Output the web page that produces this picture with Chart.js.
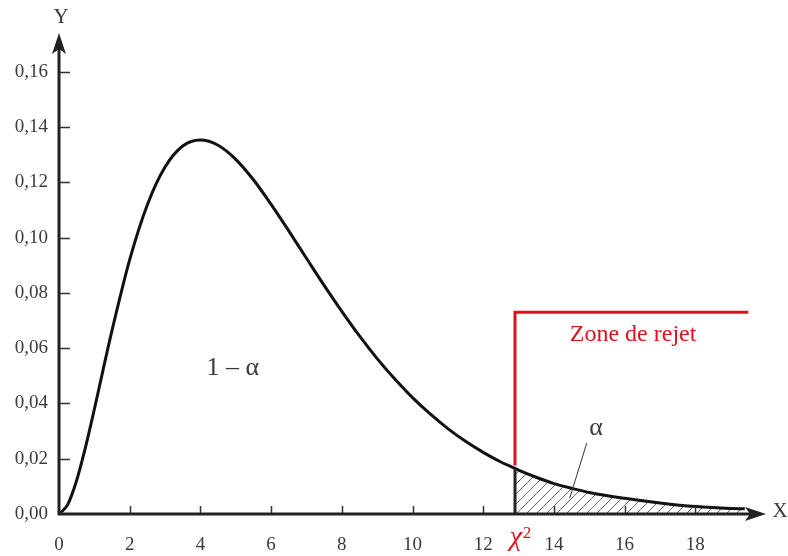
<!DOCTYPE html>
<html>
<head>
<meta charset="utf-8">
<script src="https://cdn.jsdelivr.net/npm/chart.js@4.4.1/dist/chart.umd.min.js"></script>
<style>
  html, body { margin: 0; padding: 0; background: #ffffff; }
  canvas { display: block; }
</style>
</head>
<body>
<canvas id="c" width="788" height="556"></canvas>
<script>
// Chi-square density curve, value at each x
const xValues = [0, 0.25, 0.5, 0.75, 1, 1.25, 1.5, 2, 2.5, 3, 3.5, 4, 4.5, 5, 5.5, 6, 6.5, 7, 7.5, 8, 8.5, 9, 9.5,
  10, 10.5, 11, 11.5, 12, 12.5, 12.9, 13, 13.5, 14, 14.5, 15, 16, 17, 18, 19, 19.4];
const densityValues = [0, 0.0035, 0.0122, 0.0242, 0.0379, 0.0523, 0.0664, 0.0920, 0.1119, 0.1255, 0.1331, 0.1353, 0.1334,
  0.1283, 0.1209, 0.1120, 0.1024, 0.0925, 0.0827, 0.0733, 0.0644, 0.0562, 0.0488,
  0.0421, 0.0362, 0.0309, 0.0263, 0.0223, 0.0188, 0.0165, 0.0159, 0.0133, 0.0110,
  0.0093, 0.0078, 0.0057, 0.0040, 0.0027, 0.0020, 0.0019];

const xTicks = [0, 2, 4, 6, 8, 10, 12, 14, 16, 18];
const yTicks = [0, 0.02, 0.04, 0.06, 0.08, 0.10, 0.12, 0.14, 0.16];

const criticalValue = 12.9;   // χ² threshold
const rejectLevel = 0.073;    // height of the rejection-zone bracket
const rejectEnd = 19.5;       // where the bracket stops on the x axis

const curvePoints = xValues.map((x, i) => ({ x: x, y: densityValues[i] }));
const tailPoints = curvePoints.filter(p => p.x >= criticalValue);
const criticalDensity = densityValues[xValues.indexOf(criticalValue)];

const canvas = document.getElementById('c');
const mainCtx = canvas.getContext('2d');

// diagonal hatching for the α area
function makeHatch() {
  const p = document.createElement('canvas');
  p.width = 10; p.height = 10;
  const g = p.getContext('2d');
  g.strokeStyle = '#666666';
  g.lineWidth = 1;
  g.beginPath();
  g.moveTo(0, 10); g.lineTo(10, 0);
  g.moveTo(-1, 1); g.lineTo(1, -1);
  g.moveTo(9, 11); g.lineTo(11, 9);
  g.stroke();
  return mainCtx.createPattern(p, 'repeat');
}

const SERIF = '"Liberation Serif", "Times New Roman", serif';
const INK = '#222222';
const RED = '#e0101c';
const TEXT = '#3a3a3a';

const decorations = {
  id: 'decorations',
  afterDatasetsDraw(chart) {
    const ctx = chart.ctx;
    const xs = chart.scales.x, ys = chart.scales.y;
    const area = chart.chartArea;
    const x0 = xs.getPixelForValue(0);
    const y0 = ys.getPixelForValue(0);
    const px = v => xs.getPixelForValue(v);
    const py = v => ys.getPixelForValue(v);

    ctx.save();

    // tick marks
    ctx.strokeStyle = '#333333';
    ctx.lineWidth = 1.5;
    ctx.beginPath();
    yTicks.forEach(v => { if (v > 0) { const y = Math.round(py(v)) + 0.5; ctx.moveTo(x0, y); ctx.lineTo(x0 + 11, y); } });
    xTicks.forEach(v => { if (v > 0) { const x = Math.round(px(v)) + 0.5; ctx.moveTo(x, y0); ctx.lineTo(x, y0 - 8); } });
    ctx.stroke();

    // axes with arrows
    ctx.strokeStyle = INK;
    ctx.fillStyle = INK;
    ctx.lineWidth = 3;
    ctx.beginPath();
    ctx.moveTo(x0, y0 + 1.5); ctx.lineTo(x0, area.top + 14);
    ctx.moveTo(x0 - 1.5, y0); ctx.lineTo(area.right - 14, y0);
    ctx.stroke();
    ctx.beginPath();
    ctx.moveTo(x0, area.top);
    ctx.lineTo(x0 - 7, area.top + 21);
    ctx.lineTo(x0, area.top + 16);
    ctx.lineTo(x0 + 7, area.top + 21);
    ctx.closePath();
    ctx.fill();
    ctx.beginPath();
    ctx.moveTo(area.right, y0);
    ctx.lineTo(area.right - 21, y0 - 7);
    ctx.lineTo(area.right - 16, y0);
    ctx.lineTo(area.right - 21, y0 + 7);
    ctx.closePath();
    ctx.fill();

    // threshold line under the curve
    ctx.lineWidth = 3;
    ctx.beginPath();
    ctx.moveTo(px(criticalValue), y0);
    ctx.lineTo(px(criticalValue), py(criticalDensity));
    ctx.stroke();

    // rejection zone bracket
    ctx.strokeStyle = RED;
    ctx.lineWidth = 3;
    ctx.beginPath();
    ctx.moveTo(px(criticalValue), py(criticalDensity) - 3);
    ctx.lineTo(px(criticalValue), py(rejectLevel));
    ctx.lineTo(px(rejectEnd), py(rejectLevel));
    ctx.stroke();

    // leader line to α
    ctx.strokeStyle = '#333333';
    ctx.lineWidth = 1;
    ctx.beginPath();
    ctx.moveTo(px(14.93), py(0.0257));
    ctx.lineTo(px(14.45), py(0.0058));
    ctx.stroke();

    // texts
    ctx.textAlign = 'center';
    ctx.textBaseline = 'middle';
    ctx.fillStyle = TEXT;
    ctx.font = '26px ' + SERIF;
    ctx.fillText('1 \u2013 \u03b1', px(4.92), py(0.0528));
    ctx.fillText('\u03b1', px(15.19), py(0.0311));

    ctx.fillStyle = RED;
    ctx.font = '24px ' + SERIF;
    ctx.fillText('Zone de rejet', px(16.24), py(0.0648));

    ctx.font = '21px ' + SERIF;
    ctx.fillStyle = TEXT;
    ctx.fillText('Y', x0 + 2, 17);
    ctx.fillText('X', area.right + 14, y0 - 3);

    // χ² under the threshold
    ctx.fillStyle = RED;
    ctx.textBaseline = 'alphabetic';
    ctx.font = 'italic 28px ' + SERIF;
    ctx.fillText('\u03c7', px(criticalValue) + 1, y0 + 31);
    ctx.font = '17px ' + SERIF;
    ctx.fillText('2', px(criticalValue) + 12, y0 + 24);

    ctx.restore();
  }
};

new Chart(canvas, {
  type: 'line',
  data: {
    datasets: [
      {
        data: tailPoints,
        borderWidth: 0,
        pointRadius: 0,
        fill: 'origin',
        backgroundColor: makeHatch(),
        cubicInterpolationMode: 'monotone',
        order: 2
      },
      {
        data: curvePoints,
        borderColor: '#111111',
        borderWidth: 3,
        pointRadius: 0,
        fill: false,
        cubicInterpolationMode: 'monotone',
        order: 1
      }
    ]
  },
  options: {
    responsive: false,
    animation: false,
    devicePixelRatio: 1,
    layout: { padding: { top: 33, right: 22, left: 0, bottom: 0 } },
    plugins: { legend: { display: false }, tooltip: { enabled: false } },
    scales: {
      x: {
        type: 'linear',
        min: 0,
        max: 20,
        grid: { display: false, drawTicks: false },
        border: { display: false },
        afterBuildTicks: s => { s.ticks = xTicks.map(v => ({ value: v })); },
        afterFit: s => { s.height = 42; },
        ticks: {
          autoSkip: false,
          maxRotation: 0,
          padding: 20,
          color: TEXT,
          font: { family: SERIF, size: 19 },
          callback: v => String(v)
        }
      },
      y: {
        type: 'linear',
        min: 0,
        max: 0.174,
        grid: { display: false, drawTicks: false },
        border: { display: false },
        afterBuildTicks: s => { s.ticks = yTicks.map(v => ({ value: v })); },
        afterFit: s => { s.width = 59; },
        ticks: {
          padding: 11,
          color: TEXT,
          font: { family: SERIF, size: 19 },
          callback: v => v.toFixed(2).replace('.', ',')
        }
      }
    }
  },
  plugins: [decorations]
});
</script>
</body>
</html>
